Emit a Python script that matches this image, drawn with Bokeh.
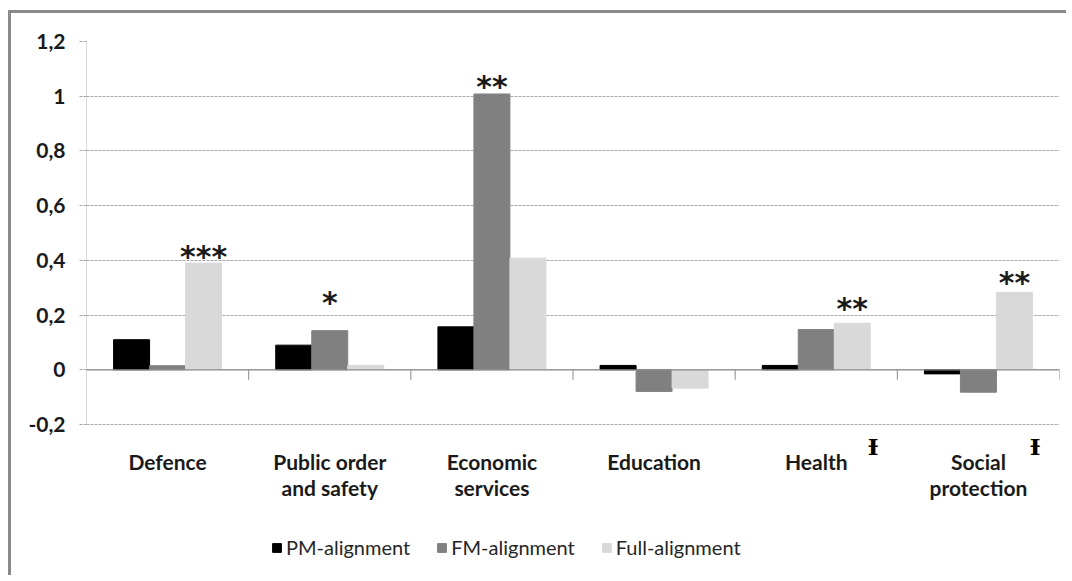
from bokeh.plotting import figure
from bokeh.models import ColumnDataSource, FactorRange, Range1d, FixedTicker, Span
from bokeh.transform import dodge
from bokeh.core.properties import value
from bokeh.embed import file_html
from bokeh.resources import INLINE

# ---------------- data ----------------
categories = ["Defence", "Public order and safety", "Economic services",
              "Education", "Health", "Social protection"]
category_labels = ["Defence", "Public order\nand safety", "Economic\nservices",
                   "Education", "Health", "Social\nprotection"]
series = ["PM-alignment", "FM-alignment", "Full-alignment"]
pm_alignment = [0.110, 0.090, 0.157, 0.016, 0.016, -0.015]
fm_alignment = [0.015, 0.143, 1.008, -0.079, 0.147, -0.082]
full_alignment = [0.390, 0.016, 0.408, -0.067, 0.170, 0.283]

sig_categories = ["Defence", "Public order and safety", "Economic services",
                  "Health", "Social protection"]
sig_series = ["Full-alignment", "FM-alignment", "FM-alignment",
              "Full-alignment", "Full-alignment"]
sig_labels = ["***", "*", "**", "**", "**"]

mark_categories = ["Health", "Social protection"]
mark_symbol = "\u0197"

y_ticks = [-0.2, 0, 0.2, 0.4, 0.6, 0.8, 1.0, 1.2]
y_tick_labels = ["-0,2", "0", "0,2", "0,4", "0,6", "0,8", "1", "1,2"]

# ---------------- styles / layout ----------------
colors = ["#000000", "#808080", "#d9d9d9"]
bar_w = 0.222
offsets = [-bar_w, 0.0, bar_w]
star_lift_px = [13, 34, 14, 21, 16]
text_col = "#1a1a1a"
frame_h_data_px = 383          # pixel height of the -0,2 .. 1,2 band
below_px = 154                 # room under the band for labels and legend
y_lo, y_hi = min(y_ticks), max(y_ticks)
px_per_unit = frame_h_data_px / (y_hi - y_lo)
view_lo = y_lo - below_px / px_per_unit

values_by_series = dict(zip(series, [pm_alignment, fm_alignment, full_alignment]))

p = figure(x_range=FactorRange(*categories), y_range=Range1d(view_lo, y_hi),
           width=1058, height=565, output_backend="svg", toolbar_location=None,
           min_border_left=75, min_border_right=10, min_border_top=28,
           min_border_bottom=0, margin=(13, 0, 0, 11))
p.styles = {"box-shadow": "-3px -3px 0 0 #8a8a8a"}
p.outline_line_color = None
p.background_fill_color = "white"
p.border_fill_color = "white"
p.xaxis.visible = False

# grid
p.xgrid.grid_line_color = None
p.ygrid.ticker = FixedTicker(ticks=y_ticks)
p.ygrid.grid_line_color = "#a6a6a6"
p.ygrid.grid_line_dash = "3 1"
p.ygrid.grid_line_width = 1

# bars
src = ColumnDataSource(dict(category=categories, **values_by_series))
for name, col, off in zip(series, colors, offsets):
    p.vbar(x=dodge("category", off, range=p.x_range), top=name, bottom=0,
           width=bar_w, source=src, fill_color=col, line_color=col,
           legend_label=name)

# zero line and category separators
p.add_layout(Span(location=0, dimension="width", line_color="#8c8c8c", line_width=1.2))
bounds = list(range(len(categories) + 1))
p.segment(x0=bounds, x1=bounds, y0=[0] * len(bounds), y1=[-10 / px_per_unit] * len(bounds),
          line_color="#8c8c8c", line_width=1)

# significance stars
sx, sy, soff = [], [], []
for c, s, lift in zip(sig_categories, sig_series, star_lift_px):
    i = categories.index(c)
    sx.append(i + 0.5 + offsets[series.index(s)])
    sy.append(values_by_series[s][i])
    soff.append(-(lift - 6))
p.text(x="x", y="y", text="t", y_offset="yo",
       source=ColumnDataSource(dict(x=sx, y=sy, t=sig_labels, yo=soff)),
       text_font=value("DejaVu Sans"), text_font_style="bold",
       text_font_size="30px", text_align="center", text_baseline="middle",
       text_color=text_col)

# category labels (one row per text line)
lx, ly, lt, lo = [], [], [], []
for i, lab in enumerate(category_labels):
    for k, line in enumerate(lab.split("\n")):
        lx.append(i + 0.5)
        ly.append(y_lo)
        lt.append(line)
        lo.append(37 + 26 * k)
p.text(x="x", y="y", text="t", y_offset="yo",
       source=ColumnDataSource(dict(x=lx, y=ly, t=lt, yo=lo)),
       text_font=value("Lato"), text_font_style="bold", text_font_size="21px",
       text_align="center", text_baseline="middle", text_color=text_col)

# extra marks next to category labels
mx = [categories.index(c) + 0.5 + 0.35 for c in mark_categories]
p.text(x=mx, y=[y_lo] * len(mx), text=[mark_symbol] * len(mx), y_offset=22,
       text_font=value("DejaVu Serif"), text_font_style="bold",
       text_font_size="23px", text_align="center", text_baseline="middle",
       text_color="#000000")

# y axis
ya = p.yaxis[0]
ya.ticker = FixedTicker(ticks=y_ticks)
ya.bounds = (y_lo, y_hi)
ya.major_label_overrides = dict(zip(y_ticks, y_tick_labels))
ya.axis_line_color = "#d9d9d9"
ya.major_tick_out = 7
ya.major_tick_in = 0
ya.major_tick_line_color = "#a6a6a6"
ya.major_tick_line_dash = "3 1"
ya.minor_tick_line_color = None
ya.major_label_standoff = 14
ya.major_label_text_font = "Lato"
ya.major_label_text_font_style = "bold"
ya.major_label_text_font_size = "21px"
ya.major_label_text_color = text_col

# legend
leg = p.legend[0]
leg.location = (185, 19)
leg.orientation = "horizontal"
leg.glyph_width = 11
leg.glyph_height = 11
leg.label_standoff = 4
leg.spacing = 26
leg.padding = 0
leg.margin = 0
leg.border_line_color = None
leg.background_fill_alpha = 0
leg.label_text_font = "Lato"
leg.label_text_font_size = "20px"
leg.label_text_color = "#262626"

open("out.html", "w").write(file_html(p, INLINE))
